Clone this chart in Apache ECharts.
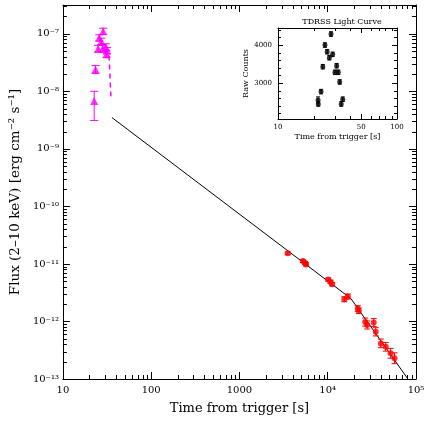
<!DOCTYPE html>
<html><head><meta charset="utf-8">
<script src="https://cdn.jsdelivr.net/npm/echarts@6/dist/echarts.min.js"></script>
<style>html,body{margin:0;padding:0;background:#fff}#c{width:436px;height:422px}</style>
</head><body><div id="c"></div>
<script>
// ---- Main panel axes ----
const xMajor = [10, 100, 1000, 1e4, 1e5];
const xMajorLabels = ['10', '100', '1000', '10⁴', '10⁵'];
const yMajor = [1e-13, 1e-12, 1e-11, 1e-10, 1e-9, 1e-8, 1e-7];
const yMajorLabels = ['10⁻¹³', '10⁻¹²', '10⁻¹¹', '10⁻¹⁰', '10⁻⁹', '10⁻⁸', '10⁻⁷'];
const minorMantissas = [2, 3, 4, 5, 6, 7, 8, 9];
const xMinorDecades = [10, 100, 1000, 1e4];
const yMinorDecades = [1e-13, 1e-12, 1e-11, 1e-10, 1e-9, 1e-8, 1e-7];

// ---- BAT (magenta) early points ----
const batTime = [22.6, 23.4, 25.0, 25.8, 27.2, 28.2, 28.6, 30.6, 31.2, 31.6];
const batFlux = [6.8e-9, 2.4e-8, 5.5e-8, 8.5e-8, 7.4e-8, 5.5e-8, 1.11e-7, 5.9e-8, 4.4e-8, 5.1e-8];
const batLow  = [3.1e-9, 2.05e-8, 4.8e-8, 7.5e-8, 6.5e-8, 4.8e-8, 9.8e-8, 5.2e-8, 3.9e-8, 4.5e-8];
const batHigh = [1.0e-8, 2.8e-8, 6.3e-8, 9.6e-8, 8.4e-8, 6.3e-8, 1.25e-7, 6.7e-8, 5.0e-8, 5.8e-8];
const batDecayTime = [33.3, 35.1];
const batDecayFlux = [4.2e-8, 7.0e-9];

// ---- XRT (red) points ----
const xrtTime = [3524, 5224, 5543, 5689, 10140, 10750, 11220, 15400, 16900, 21900, 22500, 26600, 28000, 33200, 35000, 40000, 45400, 51600, 57100];
const xrtFlux = [1.53e-11, 1.12e-11, 1.04e-11, 9.8e-12, 5.35e-12, 4.86e-12, 4.43e-12, 2.43e-12, 2.71e-12, 1.68e-12, 1.53e-12, 9.8e-13, 8.7e-13, 9.6e-13, 6.6e-13, 4.16e-13, 3.63e-13, 2.79e-13, 2.29e-13];
const xrtLow  = [1.45e-11, 1.06e-11, 0.98e-11, 9.2e-12, 5.0e-12, 4.55e-12, 4.15e-12, 2.2e-12, 2.45e-12, 1.5e-12, 1.37e-12, 8.3e-13, 7.4e-13, 8.2e-13, 5.6e-13, 3.5e-13, 3.05e-13, 2.3e-13, 1.85e-13];
const xrtHigh = [1.61e-11, 1.18e-11, 1.10e-11, 1.04e-11, 5.7e-12, 5.2e-12, 4.75e-12, 2.68e-12, 3.0e-12, 1.88e-12, 1.71e-12, 1.15e-12, 1.02e-12, 1.12e-12, 7.8e-13, 4.95e-13, 4.3e-13, 3.4e-13, 2.85e-13];

// ---- Model (broken power law) ----
const modelTime = [35.9, 18300, 81000];
const modelFlux = [3.5e-9, 2.5e-12, 1.0e-13];

// ---- Inset: TDRSS light curve ----
const insetTime   = [21.7, 21.8, 23.0, 23.8, 24.8, 25.9, 27.0, 27.9, 28.8, 30.1, 31.1, 32.1, 33.0, 34.0, 35.0];
const insetCounts = [2553, 2447, 2772, 3429, 4000, 3824, 3666, 4290, 3755, 3282, 3455, 3282, 3027, 2447, 2572];
const insetErr    = [80, 60, 60, 60, 60, 60, 60, 60, 60, 60, 60, 60, 60, 60, 60];
const insetXMajor = [10, 50, 100];
const insetXLabels = ['10', '50', '100'];
const insetXMinor = [20, 30, 40, 60, 70, 80, 90];
const insetYMajor = [3000, 4000];
const insetYLabels = ['3000', '4000'];
const insetYMinor = [2200, 2400, 2600, 2800, 3200, 3400, 3600, 3800, 4200, 4400];

const xMinor = [];
xMinorDecades.forEach(d => minorMantissas.forEach(m => xMinor.push(m * d)));
const yMinor = [];
yMinorDecades.forEach(d => minorMantissas.forEach(m => { if (m * d <= 3.2e-7) yMinor.push(m * d); }));

const FONT = 'DejaVu Serif';
const BLACK = '#000';

function nearestLabel(vals, labels, v, log) {
  let best = 0, bd = Infinity;
  vals.forEach((x, i) => {
    const d = log ? Math.abs(Math.log10(x) - Math.log10(v)) : Math.abs(x - v);
    if (d < bd) { bd = d; best = i; }
  });
  return labels[best];
}

function axisBase(extra) {
  return Object.assign({
    axisLine: { show: true, onZero: false, lineStyle: { color: BLACK, width: 1 } },
    splitLine: { show: false },
    minorTick: { show: false },
  }, extra);
}

function minorTickSeries(xIdx, yIdx, values, dir, refOther, len) {
  return {
    type: 'custom', xAxisIndex: xIdx, yAxisIndex: yIdx, silent: true, clip: false, z: 10,
    data: values.map(v => dir === 'x' ? [v, refOther] : [refOther, v]),
    renderItem: (params, api) => {
      const cs = params.coordSys;
      const p = api.coord([api.value(0), api.value(1)]);
      const st = { stroke: BLACK, lineWidth: 1 };
      if (dir === 'x') {
        const px = Math.round(p[0]) + 0.5;
        return { type: 'group', children: [
          { type: 'line', shape: { x1: px, y1: cs.y + cs.height, x2: px, y2: cs.y + cs.height - len }, style: st },
          { type: 'line', shape: { x1: px, y1: cs.y, x2: px, y2: cs.y + len }, style: st }
        ]};
      } else {
        const py = Math.round(p[1]) + 0.5;
        return { type: 'group', children: [
          { type: 'line', shape: { x1: cs.x, y1: py, x2: cs.x + len, y2: py }, style: st },
          { type: 'line', shape: { x1: cs.x + cs.width, y1: py, x2: cs.x + cs.width - len, y2: py }, style: st }
        ]};
      }
    }
  };
}

function errorBarSeries(xIdx, yIdx, xs, ys, lo, hi, color, cap, width) {
  return {
    type: 'custom', xAxisIndex: xIdx, yAxisIndex: yIdx, silent: true, z: 3,
    data: xs.map((x, i) => [x, ys[i], lo[i], hi[i]]),
    encode: { x: 0, y: [1, 2, 3] },
    renderItem: (params, api) => {
      const l = api.coord([api.value(0), api.value(2)]);
      const h = api.coord([api.value(0), api.value(3)]);
      const st = { stroke: color, lineWidth: width };
      return { type: 'group', children: [
        { type: 'line', shape: { x1: l[0], y1: l[1], x2: h[0], y2: h[1] }, style: st },
        { type: 'line', shape: { x1: l[0] - cap, y1: l[1], x2: l[0] + cap, y2: l[1] }, style: st },
        { type: 'line', shape: { x1: h[0] - cap, y1: h[1], x2: h[0] + cap, y2: h[1] }, style: st }
      ]};
    }
  };
}

const chart = echarts.init(document.getElementById('c'), null, { renderer: 'canvas' });

const mainLabel = { color: BLACK, fontFamily: FONT, fontSize: 10 };
const insetLabel = { color: BLACK, fontFamily: FONT, fontSize: 7 };

const option = {
  animation: false,
  backgroundColor: '#fff',
  title: {
    text: 'TDRSS Light Curve', left: 337, top: 13, textAlign: 'center',
    textStyle: { fontFamily: FONT, fontSize: 8, fontWeight: 'normal', color: BLACK }
  },
  grid: [
    { left: 54, right: 20, top: 5, bottom: 43 },
    { left: 278, top: 28, width: 119, height: 91 }
  ],
  xAxis: [
    axisBase({ type: 'log', gridIndex: 0, position: 'bottom', min: 10, max: 1e5,
      axisTick: { show: true, inside: true, length: 7, customValues: xMajor, lineStyle: { color: BLACK } },
      axisLabel: Object.assign({ customValues: xMajor, margin: 6,
        formatter: v => nearestLabel(xMajor, xMajorLabels, v, true) }, mainLabel),
      name: 'Time from trigger [s]', nameLocation: 'middle', nameGap: 23,
      nameTextStyle: { fontFamily: FONT, fontSize: 13, color: BLACK } }),
    axisBase({ type: 'log', gridIndex: 0, position: 'top', min: 10, max: 1e5,
      axisTick: { show: true, inside: true, length: 7, customValues: xMajor, lineStyle: { color: BLACK } },
      axisLabel: { show: false } }),
    axisBase({ type: 'log', gridIndex: 1, position: 'bottom', min: 10, max: 100,
      axisTick: { show: true, inside: true, length: 5, customValues: insetXMajor, lineStyle: { color: BLACK } },
      axisLabel: Object.assign({ customValues: insetXMajor, margin: 5,
        formatter: v => nearestLabel(insetXMajor, insetXLabels, v, true) }, insetLabel),
      name: 'Time from trigger [s]', nameLocation: 'middle', nameGap: 14,
      nameTextStyle: { fontFamily: FONT, fontSize: 8, color: BLACK } }),
    axisBase({ type: 'log', gridIndex: 1, position: 'top', min: 10, max: 100,
      axisTick: { show: true, inside: true, length: 5, customValues: insetXMajor, lineStyle: { color: BLACK } },
      axisLabel: { show: false } })
  ],
  yAxis: [
    axisBase({ type: 'log', gridIndex: 0, position: 'left', min: 1e-13, max: 3.1623e-7,
      axisTick: { show: true, inside: true, length: 7, customValues: yMajor, lineStyle: { color: BLACK } },
      axisLabel: Object.assign({ customValues: yMajor, margin: 4,
        formatter: v => nearestLabel(yMajor, yMajorLabels, v, true) }, mainLabel),
      name: 'Flux (2–10 keV) [erg cm⁻² s⁻¹]', nameLocation: 'middle', nameGap: 34,
      nameTextStyle: { fontFamily: FONT, fontSize: 13.5, color: BLACK } }),
    axisBase({ type: 'log', gridIndex: 0, position: 'right', min: 1e-13, max: 3.1623e-7,
      axisTick: { show: true, inside: true, length: 7, customValues: yMajor, lineStyle: { color: BLACK } },
      axisLabel: { show: false } }),
    axisBase({ type: 'value', gridIndex: 1, position: 'left', min: 2050, max: 4450,
      axisTick: { show: true, inside: true, length: 5, customValues: insetYMajor, lineStyle: { color: BLACK } },
      axisLabel: Object.assign({ customValues: insetYMajor, margin: 6,
        formatter: v => nearestLabel(insetYMajor, insetYLabels, v, false) }, insetLabel),
      name: 'Raw Counts', nameLocation: 'middle', nameGap: 24,
      nameTextStyle: { fontFamily: FONT, fontSize: 8, color: BLACK } }),
    axisBase({ type: 'value', gridIndex: 1, position: 'right', min: 2050, max: 4450,
      axisTick: { show: true, inside: true, length: 5, customValues: insetYMajor, lineStyle: { color: BLACK } },
      axisLabel: { show: false } })
  ],
  series: [
    minorTickSeries(0, 0, xMinor, 'x', 1e-13, 4),
    minorTickSeries(0, 0, yMinor, 'y', 10, 4),
    minorTickSeries(2, 2, insetXMinor, 'x', 3000, 3),
    minorTickSeries(2, 2, insetYMinor, 'y', 10, 3),
    {
      type: 'line', xAxisIndex: 0, yAxisIndex: 0, symbol: 'none', z: 2,
      data: modelTime.map((t, i) => [t, modelFlux[i]]),
      lineStyle: { color: '#000', width: 1 }
    },
    {
      type: 'line', xAxisIndex: 0, yAxisIndex: 0, symbol: 'none', z: 2,
      data: batDecayTime.map((t, i) => [t, batDecayFlux[i]]),
      lineStyle: { color: '#ff00ff', width: 1.5, type: [5, 4] }
    },
    errorBarSeries(0, 0, batTime, batFlux, batLow, batHigh, '#ff00ff', 4, 1),
    {
      type: 'scatter', xAxisIndex: 0, yAxisIndex: 0, symbol: 'triangle', symbolSize: 8, z: 4,
      data: batTime.map((t, i) => [t, batFlux[i]]),
      itemStyle: { color: '#ff00ff' }
    },
    errorBarSeries(0, 0, xrtTime, xrtFlux, xrtLow, xrtHigh, '#ff0000', 3, 1),
    {
      type: 'scatter', xAxisIndex: 0, yAxisIndex: 0, symbol: 'circle', symbolSize: 6, z: 4,
      data: xrtTime.map((t, i) => [t, xrtFlux[i]]),
      itemStyle: { color: '#ff0000' }
    },
    errorBarSeries(2, 2, insetTime, insetCounts,
      insetCounts.map((c, i) => c - insetErr[i]), insetCounts.map((c, i) => c + insetErr[i]), BLACK, 2, 1),
    {
      type: 'scatter', xAxisIndex: 2, yAxisIndex: 2, symbol: 'circle', symbolSize: 5, z: 4,
      data: insetTime.map((t, i) => [t, insetCounts[i]]),
      itemStyle: { color: BLACK }
    }
  ]
};
chart.setOption(option);
</script>
</body></html>
